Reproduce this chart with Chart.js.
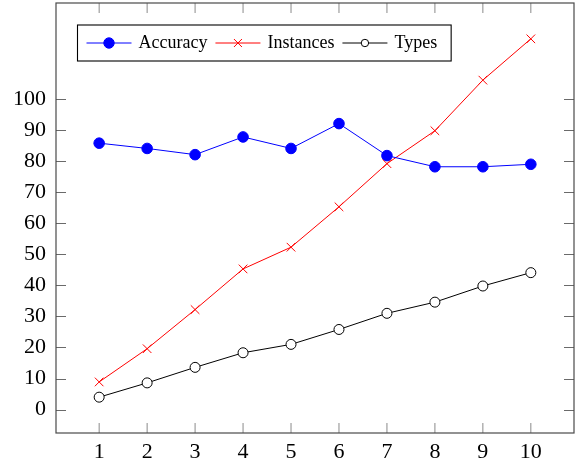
<!DOCTYPE html>
<html><head><meta charset="utf-8">
<script src="https://cdn.jsdelivr.net/npm/chart.js@4"></script>
<style>html,body{margin:0;padding:0;background:#fff}#wrap{width:579px;height:463px;position:relative}</style>
</head><body><div id="wrap"><canvas id="c" width="579" height="463"></canvas></div>
<script>
// ---- data ----
const categories = [1, 2, 3, 4, 5, 6, 7, 8, 9, 10];
const accuracy = [85.8, 84.1, 82.1, 87.8, 84.1, 92.1, 81.8, 78.2, 78.2, 79.0];
const instances = [8.9, 19.6, 32.2, 45.3, 52.3, 65.3, 79.2, 89.8, 106.1, 119.4];
const types = [4.0, 8.6, 13.6, 18.3, 21.0, 25.8, 31.0, 34.6, 39.8, 44.1];
const seriesNames = ['Accuracy', 'Instances', 'Types'];
const xTickLabels = ['1', '2', '3', '4', '5', '6', '7', '8', '9', '10'];
const yTickValues = [0, 10, 20, 30, 40, 50, 60, 70, 80, 90, 100];
const yTickLabels = ['0', '10', '20', '30', '40', '50', '60', '70', '80', '90', '100'];

// enlarge limits by 10% like pgfplots
const allY = accuracy.concat(instances, types);
const yLo = Math.min(...allY), yHi = Math.max(...allY);
const yPad = (yHi - yLo) * 0.1;
const xLo = Math.min(...categories), xHi = Math.max(...categories);
const xPad = (xHi - xLo) * 0.1;

const pts = arr => categories.map((c, i) => ({ x: c, y: arr[i] }));

const TICK_FONT = { family: '"Liberation Serif", "Times New Roman", serif', size: 22 };

const markers = [
  { style: 'dot', color: '#0000ff', r: 5.3, lr: 5.2 },
  { style: 'cross', color: '#ff0000', r: 4.3, lr: 4 },
  { style: 'circle', color: '#000000', r: 5, lr: 3.7 }
];

function drawMarker(ctx, m, x, y, r) {
  ctx.save();
  ctx.lineWidth = 1;
  ctx.strokeStyle = m.color;
  if (m.style === 'dot') {
    ctx.fillStyle = m.color;
    ctx.beginPath(); ctx.arc(x, y, r, 0, Math.PI * 2); ctx.fill(); ctx.stroke();
  } else if (m.style === 'circle') {
    ctx.fillStyle = '#fff';
    ctx.beginPath(); ctx.arc(x, y, r, 0, Math.PI * 2); ctx.fill(); ctx.stroke();
  } else {
    ctx.beginPath();
    ctx.moveTo(x - r, y - r); ctx.lineTo(x + r, y + r);
    ctx.moveTo(x + r, y - r); ctx.lineTo(x - r, y + r);
    ctx.stroke();
  }
  ctx.restore();
}

const axisPlugin = {
  id: 'pgfAxis',
  beforeDatasetsDraw(chart) {
    const { ctx, chartArea: a, scales: { x, y } } = chart;
    ctx.save();
    ctx.lineWidth = 1;
    // x ticks (bottom and top, inward)
    ctx.strokeStyle = '#8a8a8a';
    categories.forEach(c => {
      const px = x.getPixelForValue(c);
      ctx.beginPath();
      ctx.moveTo(px, a.bottom); ctx.lineTo(px, a.bottom - 10);
      ctx.moveTo(px, a.top); ctx.lineTo(px, a.top + 10);
      ctx.stroke();
    });
    ctx.strokeStyle = '#6a6a6a';
    yTickValues.forEach(v => {
      const py = Math.round(y.getPixelForValue(v)) + 0.5;
      ctx.beginPath();
      ctx.moveTo(a.left, py); ctx.lineTo(a.left + 10, py);
      ctx.moveTo(a.right, py); ctx.lineTo(a.right - 10, py);
      ctx.stroke();
    });
    // frame
    ctx.strokeStyle = '#4a4a4a';
    ctx.lineWidth = 1.2;
    ctx.strokeRect(a.left, a.top, a.right - a.left, a.bottom - a.top);
    ctx.restore();
  },
  afterDraw(chart) {
    const { ctx, chartArea: a } = chart;
    ctx.save();
    ctx.font = '18px "Liberation Serif", "Times New Roman", serif';
    const bx = a.left + 21.5, by = a.top + 22, bh = 36;
    const cy = by + bh / 2;
    let cx = bx + 9;
    const items = [];
    seriesNames.forEach((name, i) => {
      const lx0 = cx, lx1 = cx + 45;
      const tx = lx1 + 7;
      const tw = ctx.measureText(name).width;
      items.push({ lx0, lx1, tx, i, name });
      cx = tx + tw + 8;
    });
    const bw = cx - bx + 6;
    ctx.fillStyle = '#fff';
    ctx.fillRect(bx, by, bw, bh);
    ctx.strokeStyle = '#000';
    ctx.lineWidth = 1.1;
    ctx.strokeRect(bx, by, bw, bh);
    items.forEach(it => {
      const m = markers[it.i];
      ctx.strokeStyle = m.color;
      ctx.lineWidth = 1;
      ctx.beginPath(); ctx.moveTo(it.lx0, cy); ctx.lineTo(it.lx1, cy); ctx.stroke();
      drawMarker(ctx, m, (it.lx0 + it.lx1) / 2, cy, m.lr);
      ctx.fillStyle = '#000';
      ctx.textBaseline = 'alphabetic';
      ctx.fillText(it.name, it.tx, cy + 5);
    });
    ctx.restore();
  }
};

const series = [accuracy, instances, types];
const datasets = series.map((arr, i) => {
  const m = markers[i];
  return {
    label: seriesNames[i],
    data: pts(arr),
    borderColor: m.color,
    borderWidth: 1,
    backgroundColor: m.color,
    pointStyle: m.style === 'cross' ? 'crossRot' : 'circle',
    pointRadius: m.style === 'cross' ? m.r * Math.SQRT2 : m.r,
    pointBackgroundColor: m.style === 'circle' ? '#ffffff' : m.color,
    pointBorderColor: m.color,
    pointBorderWidth: 1,
    tension: 0,
    fill: false,
    clip: false
  };
});

new Chart(document.getElementById('c'), {
  type: 'line',
  data: { datasets },
  options: {
    responsive: false,
    devicePixelRatio: 1,
    animation: false,
    events: [],
    layout: { autoPadding: false, padding: { left: 0, right: 5, top: 3, bottom: 0 } },
    plugins: { legend: { display: false }, tooltip: { enabled: false } },
    scales: {
      x: {
        type: 'linear',
        min: xLo - xPad,
        max: xHi + xPad,
        grid: { display: false, drawTicks: false },
        border: { display: false },
        afterBuildTicks: s => { s.ticks = categories.map(v => ({ value: v })); },
        afterFit: s => { s.height = 30; s.paddingLeft = 0; s.paddingRight = 0; },
        ticks: {
          autoSkip: false, maxRotation: 0, padding: 6, color: '#000', font: TICK_FONT,
          callback: v => xTickLabels[categories.indexOf(v)]
        }
      },
      y: {
        type: 'linear',
        min: yLo - yPad,
        max: yHi + yPad,
        grid: { display: false, drawTicks: false },
        border: { display: false },
        afterBuildTicks: s => { s.ticks = yTickValues.map(v => ({ value: v })); },
        afterFit: s => { s.width = 56; s.paddingTop = 0; s.paddingBottom = 0; },
        ticks: {
          autoSkip: false, padding: 10, color: '#000', font: TICK_FONT,
          callback: v => yTickLabels[yTickValues.indexOf(v)]
        }
      }
    }
  },
  plugins: [axisPlugin]
});
</script></body></html>
